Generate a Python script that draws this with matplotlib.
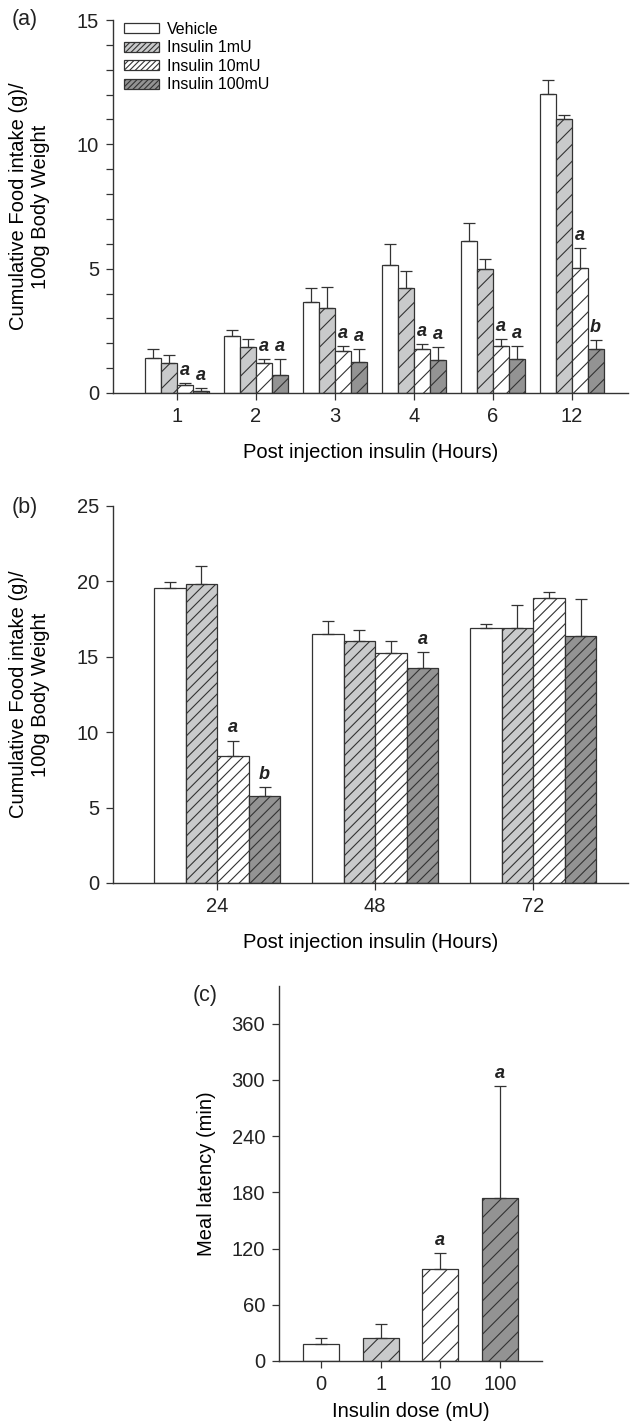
import numpy as np
import matplotlib
matplotlib.use("Agg")
import matplotlib.pyplot as plt
from matplotlib.patches import Patch
from matplotlib.ticker import MultipleLocator

plt.rcParams['font.family'] = ['Liberation Sans', 'DejaVu Sans']
plt.rcParams['hatch.linewidth'] = 0.8

# groups (legend labels)
groups = ['Vehicle', 'Insulin 1mU', 'Insulin 10mU', 'Insulin 100mU']

# panel (a): hours 1-12
hours_a = ['1', '2', '3', '4', '6', '12']
a_mean = {
    'Vehicle':       [1.41, 2.29, 3.65, 5.15, 6.11, 12.02],
    'Insulin 1mU':   [1.21, 1.85, 3.41, 4.22, 4.98, 11.00],
    'Insulin 10mU':  [0.32, 1.20, 1.69, 1.77, 1.89, 5.03],
    'Insulin 100mU': [0.10, 0.72, 1.25, 1.33, 1.37, 1.77],
}
a_err = {
    'Vehicle':       [0.36, 0.24, 0.57, 0.85, 0.73, 0.58],
    'Insulin 1mU':   [0.32, 0.32, 0.86, 0.68, 0.40, 0.16],
    'Insulin 10mU':  [0.08, 0.17, 0.21, 0.20, 0.28, 0.80],
    'Insulin 100mU': [0.10, 0.65, 0.52, 0.52, 0.52, 0.36],
}
a_marks = {
    'Insulin 10mU':  ['a', 'a', 'a', 'a', 'a', 'a'],
    'Insulin 100mU': ['a', 'a', 'a', 'a', 'a', 'b'],
}

# panel (b): hours 24-72
hours_b = ['24', '48', '72']
b_mean = {
    'Vehicle':       [19.58, 16.51, 16.89],
    'Insulin 1mU':   [19.84, 16.07, 16.89],
    'Insulin 10mU':  [8.44, 15.27, 18.92],
    'Insulin 100mU': [5.79, 14.24, 16.38],
}
b_err = {
    'Vehicle':       [0.40, 0.84, 0.31],
    'Insulin 1mU':   [1.19, 0.69, 1.52],
    'Insulin 10mU':  [1.00, 0.78, 0.40],
    'Insulin 100mU': [0.59, 1.10, 2.47],
}
b_marks = {
    'Insulin 10mU':  ['a', '', ''],
    'Insulin 100mU': ['b', 'a', ''],
}

# panel (c): meal latency
doses = ['0', '1', '10', '100']
c_mean = [17.8, 24.6, 98.6, 173.7]
c_err = [7.1, 15.2, 16.4, 119.9]
c_marks = ['', '', 'a', 'a']

fills = {'Vehicle': 'white', 'Insulin 1mU': '#c9cacb',
         'Insulin 10mU': 'white', 'Insulin 100mU': '#939393'}
edge = '#333333'
FS = 14.5


def style_axis(ax):
    for s in ['top', 'right']:
        ax.spines[s].set_visible(False)
    for s in ['left', 'bottom']:
        ax.spines[s].set_linewidth(1.0)
        ax.spines[s].set_color(edge)
    ax.tick_params(direction='out', length=5, width=0.9, color=edge,
                   labelsize=FS, labelcolor='#222222', pad=5)
    ax.tick_params(which='minor', direction='out', length=5, width=0.9, color=edge)


def mark(ax, x, top, letter):
    if letter:
        ax.annotate(letter, (x, top), xytext=(0, 3), textcoords='offset points',
                    ha='center', va='bottom', fontsize=13, fontweight='bold',
                    fontstyle='italic', color='#222222')


def hatch_for(g, dens):
    return None if g == 'Vehicle' else dens


def grouped(ax, cats, means, errs, marks, dens, width=0.2):
    x = np.arange(len(cats))
    for i, g in enumerate(groups):
        xs = x + (i - 1.5) * width
        ax.bar(xs, means[g], width, color=fills[g], hatch=hatch_for(g, dens),
               edgecolor=edge, linewidth=0.9, zorder=2)
        ax.errorbar(xs, means[g], yerr=[np.zeros(len(cats)), errs[g]], fmt='none',
                    ecolor=edge, elinewidth=0.9, capsize=4, capthick=0.9, zorder=3)
        if g in marks:
            for xi, m, e, l in zip(xs, means[g], errs[g], marks[g]):
                mark(ax, xi, m + e, l)
    ax.set_xticks(x)
    ax.set_xticklabels(cats)


fig = plt.figure(figsize=(6.3, 14.25), dpi=100)
ylab = 'Cumulative Food intake (g)/\n100g Body Weight'

# (a)
ax1 = fig.add_axes([113 / 630, 1 - 393 / 1425, 515 / 630, 373 / 1425])
grouped(ax1, hours_a, a_mean, a_err, a_marks, '//')
ax1.set_xlim(-0.81, 5.71)
ax1.set_ylim(0, 15)
ax1.set_yticks([0, 5, 10, 15])
ax1.yaxis.set_minor_locator(MultipleLocator(1))
style_axis(ax1)
ax1.set_xlabel('Post injection insulin (Hours)', fontsize=FS, labelpad=12)
ax1.set_ylabel(ylab, fontsize=FS)
ax1.yaxis.set_label_coords(-0.122, 0.5)
handles = [Patch(facecolor=fills[g], hatch=hatch_for(g, '//////'), edgecolor=edge, linewidth=0.9)
           for g in groups]
ax1.legend(handles, groups, loc='upper left', bbox_to_anchor=(0.0, 1.025), frameon=False,
           fontsize=11.5, handlelength=2.2, handleheight=0.6, labelspacing=0.22,
           handletextpad=0.5, borderaxespad=0.3)
fig.text(12 / 630, 1 - 20 / 1425, '(a)', fontsize=15.5, color='#222222', va='center')

# (b)
ax2 = fig.add_axes([113 / 630, 1 - 883 / 1425, 515 / 630, 377 / 1425])
grouped(ax2, hours_b, b_mean, b_err, b_marks, '///')
ax2.set_xlim(-0.66, 2.60)
ax2.set_ylim(0, 25)
ax2.set_yticks([0, 5, 10, 15, 20, 25])
style_axis(ax2)
ax2.set_xlabel('Post injection insulin (Hours)', fontsize=FS, labelpad=12)
ax2.set_ylabel(ylab, fontsize=FS)
ax2.yaxis.set_label_coords(-0.122, 0.5)
fig.text(12 / 630, 1 - 507 / 1425, '(b)', fontsize=15.5, color='#222222', va='center')

# (c)
ax3 = fig.add_axes([279 / 630, 1 - 1361 / 1425, 263 / 630, 375 / 1425])
xc = np.arange(len(doses))
for i, g in enumerate(groups):
    ax3.bar(xc[i], c_mean[i], 0.6, color=fills[g], hatch=hatch_for(g, '//'),
            edgecolor=edge, linewidth=0.9, zorder=2)
ax3.errorbar(xc, c_mean, yerr=[np.zeros(len(doses)), c_err], fmt='none',
             ecolor=edge, elinewidth=0.9, capsize=4, capthick=0.9, zorder=3)
for xi, m, e, l in zip(xc, c_mean, c_err, c_marks):
    mark(ax3, xi, m + e, l)
ax3.set_xticks(xc)
ax3.set_xticklabels(doses)
ax3.set_xlim(-0.7, 3.7)
ax3.set_ylim(0, 400)
ax3.set_yticks(np.arange(0, 361, 60))
style_axis(ax3)
ax3.set_xlabel('Insulin dose (mU)', fontsize=FS, labelpad=6)
ax3.set_ylabel('Meal latency (min)', fontsize=FS)
ax3.yaxis.set_label_coords(-0.24, 0.5)
fig.text(193 / 630, 1 - 995 / 1425, '(c)', fontsize=15.5, color='#222222', va='center')

fig.savefig('out.png', dpi=100)
